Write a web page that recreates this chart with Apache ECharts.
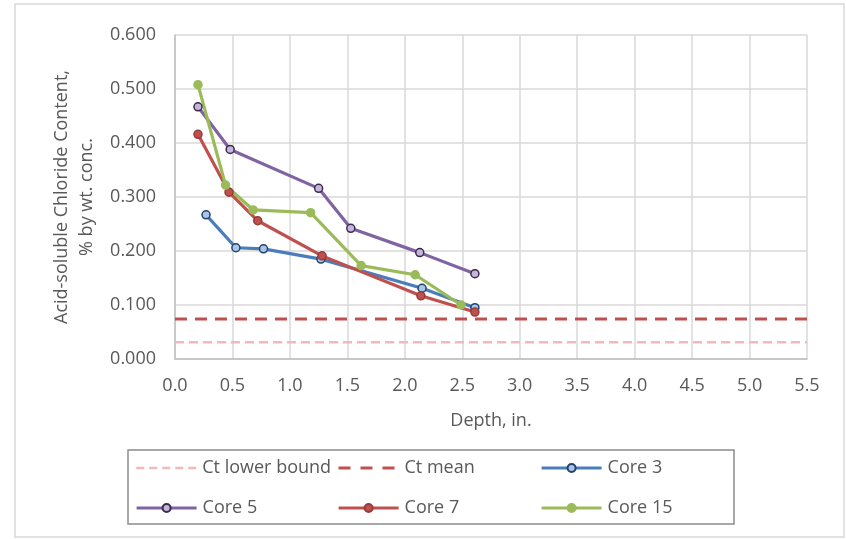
<!DOCTYPE html>
<html>
<head>
<meta charset="utf-8">
<script src="https://cdn.jsdelivr.net/npm/echarts@6/dist/echarts.min.js"></script>
<style>
html,body{margin:0;padding:0;background:#fff;}
#c{width:846px;height:539px;}
</style>
</head>
<body>
<div id="c"></div>
<script>
const xTicks = {min: 0, max: 5.5, interval: 0.5};
const yTicks = {min: 0, max: 0.6, interval: 0.1};

const ctLowerBound = [[0, 0.031], [5.5, 0.031]];
const ctMean = [[0, 0.074], [5.5, 0.074]];
const core3 = [[0.27, 0.267], [0.53, 0.206], [0.77, 0.204], [1.27, 0.185], [2.15, 0.131], [2.61, 0.095]];
const core5 = [[0.20, 0.467], [0.48, 0.388], [1.25, 0.316], [1.53, 0.242], [2.13, 0.197], [2.61, 0.158]];
const core7 = [[0.20, 0.416], [0.47, 0.309], [0.72, 0.256], [1.28, 0.191], [2.14, 0.117], [2.61, 0.087]];
const core15 = [[0.20, 0.508], [0.44, 0.322], [0.68, 0.276], [1.18, 0.271], [1.62, 0.173], [2.09, 0.156], [2.49, 0.100]];

const FONT = '"Open Sans", sans-serif';
const TXT = '#595959';
const FS = 18;

const chart = echarts.init(document.getElementById('c'), null, {renderer: 'canvas'});

function coreSeries(name, data, color, fill, border) {
  return {
    name, type: 'line', data,
    symbol: 'circle', symbolSize: 8,
    lineStyle: {color, width: 3.2},
    itemStyle: {color: fill, borderColor: border, borderWidth: 1.5},
    emphasis: {disabled: true},
    z: 5
  };
}

function legendAt(item, left, top) {
  return {
    data: [item], left, top,
    itemWidth: 60, itemHeight: 10, itemGap: 0,
    textStyle: {fontFamily: FONT, fontSize: FS, color: TXT, padding: [0, 0, 0, 1]},
    padding: 0, selectedMode: false
  };
}

chart.setOption({
  animation: false,
  backgroundColor: '#fff',
  grid: {left: 175, top: 35, right: 39, bottom: 180, containLabel: false},
  xAxis: {
    type: 'value', min: xTicks.min, max: xTicks.max, interval: xTicks.interval,
    name: 'Depth, in.', nameLocation: 'middle', nameGap: 53,
    nameTextStyle: {fontFamily: FONT, fontSize: FS, color: TXT},
    axisLine: {show: true, lineStyle: {color: '#bfbfbf', width: 1.5}},
    axisTick: {show: false},
    axisLabel: {fontFamily: FONT, fontSize: FS, color: TXT, margin: 18,
      formatter: v => v.toFixed(1)},
    splitLine: {show: true, lineStyle: {color: '#d9d9d9', width: 1.5}}
  },
  yAxis: {
    type: 'value', min: yTicks.min, max: yTicks.max, interval: yTicks.interval,
    name: 'Acid-soluble Chloride Content,\n% by wt. conc.', nameLocation: 'middle', nameGap: 76,
    nameTextStyle: {fontFamily: FONT, fontSize: FS, color: TXT, lineHeight: 25},
    axisLine: {show: true, lineStyle: {color: '#bfbfbf', width: 1.5}},
    axisTick: {show: false},
    axisLabel: {fontFamily: FONT, fontSize: FS, color: TXT, margin: 19,
      formatter: v => v.toFixed(3)},
    splitLine: {show: true, lineStyle: {color: '#d9d9d9', width: 1.5}}
  },
  legend: [
    legendAt({name: 'Ct lower bound', itemStyle: {opacity: 0}, lineStyle: {width: 2.5, type: [8, 5]}}, 135, 459),
    legendAt({name: 'Ct mean', itemStyle: {opacity: 0}, lineStyle: {width: 3, type: [12, 10]}}, 337, 459),
    legendAt({name: 'Core 3', lineStyle: {width: 3.2}}, 540, 459),
    legendAt({name: 'Core 5', lineStyle: {width: 3.2}}, 135, 499),
    legendAt({name: 'Core 7', lineStyle: {width: 3.2}}, 337, 499),
    legendAt({name: 'Core 15', lineStyle: {width: 3.2}}, 540, 499)
  ],
  graphic: [
    {type: 'rect', shape: {x: 15, y: 4, width: 829, height: 533}, style: {fill: 'none', stroke: '#d9d9d9', lineWidth: 1.5}, silent: true, z: -1},
    {type: 'rect', shape: {x: 128, y: 450, width: 606, height: 74}, style: {fill: 'none', stroke: '#8c8c8c', lineWidth: 1.5}, silent: true}
  ],
  series: [
    {name: 'Ct lower bound', type: 'line', data: ctLowerBound, symbol: 'none',
      lineStyle: {color: '#f2b9b8', width: 2.5, type: [9, 5]}, itemStyle: {color: '#f2b9b8'}, z: 3},
    {name: 'Ct mean', type: 'line', data: ctMean, symbol: 'none',
      lineStyle: {color: '#c0504d', width: 3, type: [12, 8]}, itemStyle: {color: '#c0504d'}, z: 3},
    coreSeries('Core 3', core3, '#4a7ebb', '#a9c5e8', '#24416a'),
    coreSeries('Core 5', core5, '#8064a2', '#c5b6d9', '#3b2a4f'),
    coreSeries('Core 7', core7, '#c0504d', '#c0504d', '#963d3a'),
    coreSeries('Core 15', core15, '#9bbb59', '#9bbb59', '#9bbb59')
  ]
});
</script>
</body>
</html>
